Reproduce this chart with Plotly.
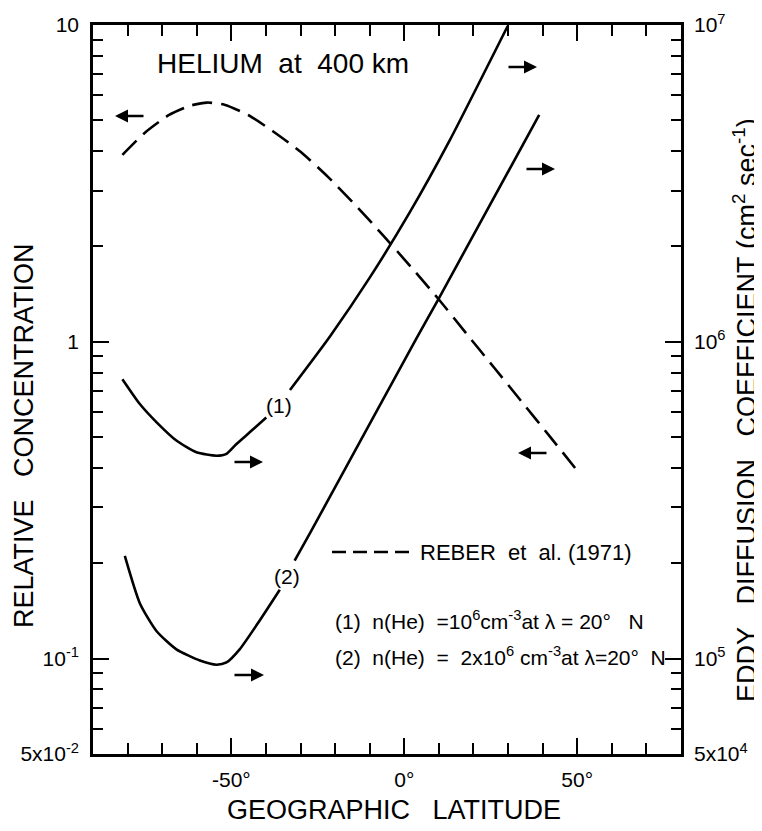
import plotly.graph_objects as go

# ---- data ----
reber_lat = [-81.5, -75, -68, -62, -57, -52, -45, -38, -30, -22, -14, -6, 2, 10, 18, 26, 34, 42, 51]
reber_conc = [3.89, 4.57, 5.20, 5.56, 5.69, 5.60, 5.19, 4.62, 3.98, 3.31, 2.69, 2.16, 1.72, 1.36, 1.06, 0.828, 0.646, 0.504, 0.380]

c1_lat = [-81.5, -76.4, -71.6, -65.9, -60.1, -54.3, -51.4, -48.6, -44.7, -39.9, None,
          -33.05, -21.5, -9.9, 1.65, 13.2, 29.9]
c1_eddy = [7.62e5, 6.35e5, 5.57e5, 4.88e5, 4.48e5, 4.37e5, 4.43e5, 4.75e5, 5.18e5, 5.77e5, None,
           7.05e5, 1.04e6, 1.60e6, 2.57e6, 4.34e6, 9.93e6]

c2_lat = [-80.8, -76.4, -71.6, -65.9, -59.1, -54.3, -51.4, -47.6, -41.8, -36.0, None,
          -31.7, -26.9, 3.4, 9.8, 39.0]
c2_eddy = [2.11e5, 1.49e5, 1.22e5, 1.07e5, 9.86e4, 9.57e4, 9.73e4, 1.07e5, 1.32e5, 1.65e5, None,
           2.04e5, 2.53e5, 1.02e6, 1.36e6, 5.20e6]

x_tickvals = [-50, 0, 50]
x_ticktext = ["-50°", "0°", "50°"]
x_minor = [-80, -70, -60, -40, -30, -20, -10, 10, 20, 30, 40, 60, 70]

yl_tickvals = [0.05, 0.1, 1, 10]
yl_ticktext = ["5x10<sup>-2</sup>", "10<sup>-1</sup>", "1", "10"]
yl_minor = [0.06, 0.07, 0.08, 0.09, 0.2, 0.3, 0.4, 0.5, 0.6, 0.7, 0.8, 0.9,
            2, 3, 4, 5, 6, 7, 8, 9]

yr_tickvals = [5e4, 1e5, 1e6, 1e7]
yr_ticktext = ["5x10<sup>4</sup>", "10<sup>5</sup>", "10<sup>6</sup>", "10<sup>7</sup>"]
yr_minor = [6e4, 7e4, 8e4, 9e4, 2e5, 3e5, 4e5, 5e5, 6e5, 7e5, 8e5, 9e5,
            2e6, 3e6, 4e6, 5e6, 6e6, 7e6, 8e6, 9e6]

FONT = "Liberation Sans"
NB = "\u00a0"
OFF = 8  # page body margin in the browser
W, H = 762 - OFF, 831 - OFF
# plot-area edges in screen pixels
LS, RS, TS, BS = 93, 681, 25, 754

def px(x):
    return (x - LS) / (RS - LS)

def py(y):
    return (BS - y) / (BS - TS)

fig = go.Figure()
fig.add_trace(go.Scatter(x=reber_lat, y=reber_conc, mode="lines",
                         line=dict(color="black", width=2.6, dash="20px,9px", shape="spline", smoothing=0.6),
                         yaxis="y", showlegend=False))
fig.add_trace(go.Scatter(x=c1_lat, y=c1_eddy, mode="lines",
                         line=dict(color="black", width=2.6, shape="spline", smoothing=0.6),
                         yaxis="y2", showlegend=False, connectgaps=False))
fig.add_trace(go.Scatter(x=c2_lat, y=c2_eddy, mode="lines",
                         line=dict(color="black", width=2.6, shape="spline", smoothing=0.6),
                         yaxis="y2", showlegend=False, connectgaps=False))

tickfont = dict(family=FONT, size=21, color="black")

fig.update_layout(
    template="none",
    width=W, height=H,
    margin=dict(l=LS - OFF, r=W - (RS - OFF), t=TS - OFF, b=H - (BS - OFF), autoexpand=False),
    paper_bgcolor="white", plot_bgcolor="white",
    font=dict(family=FONT, color="black"),
    xaxis=dict(range=[-90, 80], tickmode="array", tickvals=x_tickvals, ticktext=x_ticktext,
               ticks="inside", ticklen=16, tickwidth=2, tickcolor="black", automargin=False,
               minor=dict(tickmode="array", tickvals=x_minor, ticks="inside", ticklen=11,
                          tickwidth=2, tickcolor="black", showgrid=False),
               showline=True, linecolor="black", linewidth=2.6, mirror="ticks",
               showgrid=False, zeroline=False, tickfont=tickfont, ticklabelstandoff=5),
    yaxis=dict(type="log", range=[-1.30103, 1], tickmode="array", tickvals=yl_tickvals,
               ticktext=yl_ticktext, ticks="inside", ticklen=16, tickwidth=2, tickcolor="black",
               automargin=False,
               minor=dict(tickmode="array", tickvals=yl_minor, ticks="inside", ticklen=10,
                          tickwidth=2, tickcolor="black", showgrid=False),
               showline=True, linecolor="black", linewidth=2.6,
               showgrid=False, zeroline=False, tickfont=tickfont, ticklabelstandoff=7),
    yaxis2=dict(type="log", range=[4.69897, 7], overlaying="y", side="right",
                tickmode="array", tickvals=yr_tickvals, ticktext=yr_ticktext,
                ticks="inside", ticklen=16, tickwidth=2, tickcolor="black", automargin=False,
                minor=dict(tickmode="array", tickvals=yr_minor, ticks="inside", ticklen=10,
                           tickwidth=2, tickcolor="black", showgrid=False),
                showline=True, linecolor="black", linewidth=2.6,
                showgrid=False, zeroline=False, tickfont=tickfont, ticklabelstandoff=6),
)

ann = []
# axis titles
ann.append(dict(text="GEOGRAPHIC" + NB * 3 + "LATITUDE", xref="paper", yref="paper", x=px(394), y=py(810),
                showarrow=False, font=dict(family=FONT, size=27), xanchor="center", yanchor="middle"))
ann.append(dict(text="RELATIVE" + NB * 3 + "CONCENTRATION", xref="paper", yref="paper", x=px(24), y=py(436),
                showarrow=False, textangle=-90, font=dict(family=FONT, size=27), xanchor="center", yanchor="middle"))
ann.append(dict(text="EDDY" + NB * 3 + "DIFFUSION" + NB * 3 + "COEFFICIENT" + NB + "(cm<sup>2</sup>" + NB + "sec<sup>-1</sup>)",
                xref="paper", yref="paper", x=px(745), y=py(410),
                showarrow=False, textangle=-90, font=dict(family=FONT, size=27), xanchor="center", yanchor="middle"))
# panel title
ann.append(dict(text="HELIUM" + NB * 2 + "at" + NB * 2 + "400" + NB + "km", xref="paper", yref="paper", x=px(155), y=py(63),
                showarrow=False, font=dict(family=FONT, size=28), xanchor="left", yanchor="middle"))
# curve labels
ann.append(dict(text="(1)", xref="paper", yref="paper", x=px(279), y=py(405), showarrow=False,
                font=dict(family=FONT, size=21), xanchor="center", yanchor="middle"))
ann.append(dict(text="(2)", xref="paper", yref="paper", x=px(287), y=py(576), showarrow=False,
                font=dict(family=FONT, size=21), xanchor="center", yanchor="middle"))
# legend text
ann.append(dict(text="REBER" + NB * 2 + "et" + NB * 2 + "al." + NB + "(1971)", xref="paper", yref="paper", x=px(418), y=py(552),
                showarrow=False, font=dict(family=FONT, size=22), xanchor="left", yanchor="middle"))
ann.append(dict(text="(1)" + NB * 2 + "n(He)" + NB * 2 + "=10<sup>6</sup>cm<sup>-3</sup>at" + NB + "λ" + NB + "=" + NB + "20°" + NB * 3 + "N",
                xref="paper", yref="paper", x=px(333), y=py(620),
                showarrow=False, font=dict(family=FONT, size=21), xanchor="left", yanchor="middle"))
ann.append(dict(text="(2)" + NB * 2 + "n(He)" + NB * 2 + "=" + NB * 2 + "2x10<sup>6</sup>" + NB + "cm<sup>-3</sup>at" + NB + "λ=20°" + NB * 2 + "N",
                xref="paper", yref="paper", x=px(333), y=py(656),
                showarrow=False, font=dict(family=FONT, size=21), xanchor="left", yanchor="middle"))

# direction arrows (tip x, y in screen px, tail offset in px)
arrows = [(115, 116, 30), (263, 462, -30), (264, 675, -31), (537, 67, -30), (555, 169, -30), (518, 453, 30)]
for xt, yt, off in arrows:
    ann.append(dict(x=px(xt), y=py(yt), xref="paper", yref="paper", ax=off, ay=0, text="",
                    showarrow=True, arrowhead=2, arrowsize=1.0, arrowwidth=2.6, arrowcolor="black"))

fig.update_layout(annotations=ann)

# dashed legend sample
fig.add_shape(type="line", xref="paper", yref="paper", x0=px(332), x1=px(413), y0=py(552), y1=py(552),
              line=dict(color="black", width=2.6, dash="14px,7px"))

fig.write_html("out.html")
